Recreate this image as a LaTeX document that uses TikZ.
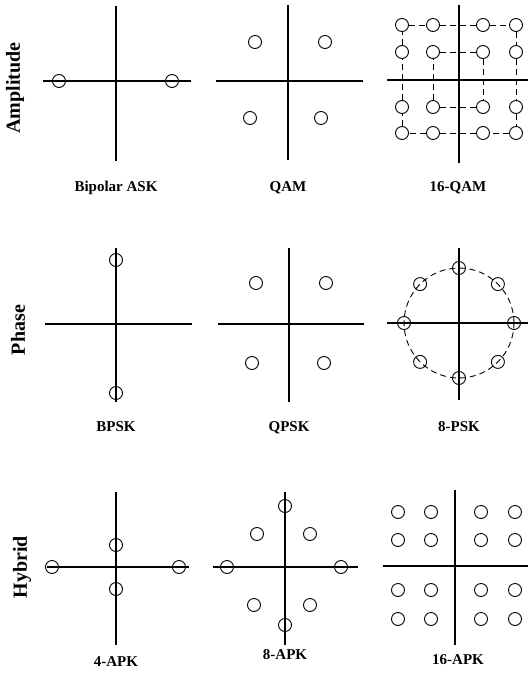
\documentclass[tikz,border=0pt]{standalone}
\usepackage{fontspec}
\setmainfont{Liberation Serif}
\begin{document}
\begin{tikzpicture}[x=1pt,y=-1pt]
\tikzset{pt/.style={circle,draw,inner sep=0pt,minimum size=13pt,line width=0.9pt},
axis/.style={black,line width=1.5pt},
dsh/.style={line width=0.9pt,dash pattern=on 6pt off 4pt},
lbl/.style={font=\fontsize{15}{18}\selectfont\bfseries,text height=10pt,text depth=0pt},
rowlbl/.style={font=\fontsize{20}{24}\selectfont\bfseries,rotate=90}}
\useasboundingbox (0,0) rectangle (528,674);

\foreach\cx/\cy/\l/\r/\t/\b in {116/81/43/191/6/161, 288/81/216/363/5/160, 459/80/387/528/5/163,
116/324/45/192/248/402, 289/324/218/364/248/402, 459/323/387/528/248/400,
116/567/47/189/492/645, 285/567/213/358/492/645, 455/566/383/528/490/645}
{\draw[axis] (\l,\cy) -- (\r,\cy);
\draw[axis] (\cx,\t) -- (\cx,\b);}

\node[rowlbl] (amp) at (15,88) {Amplitude};
\node[rowlbl] (pha) at (18,330) {Phase};
\node[rowlbl] (hyb) at (22,567) {Hybrid};

\node[pt] (ask1) at (59,81) {};
\node[pt] (ask2) at (172,81) {};
\node[lbl] (askl) at (116,186) {Bipolar ASK};

\foreach\x/\y [count=\i] in {255/42, 325/42, 250/118, 321/118}
\node[pt] (qam\i) at (\x,\y) {};
\node[lbl] (qaml) at (288,186) {QAM};

\foreach\x [count=\i] in {402,433,483,516}
\foreach\y [count=\j] in {25,52,107,133}
\node[pt] (q\j\i) at (\x,\y) {};
\draw[dsh] (q11) -- (q12) -- (q13) -- (q14) -- (q24) -- (q34) -- (q44) -- (q43) -- (q42) -- (q41) -- (q31) -- (q21) -- (q11);
\draw[dsh] (q22) -- (q23) -- (q33) -- (q32) -- (q22);
\node[lbl] (qaml16) at (458,186) {16-QAM};

\node[pt] (bpsk1) at (116,260) {};
\node[pt] (bpsk2) at (116,393) {};
\node[lbl] (bpskl) at (116,426) {BPSK};

\foreach\x/\y [count=\i] in {256/283, 326/283, 252/363, 324/363}
\node[pt] (qpsk\i) at (\x,\y) {};
\node[lbl] (qpskl) at (289,426) {QPSK};

\draw[dsh] (459,323) circle[radius=55pt];
\foreach\a [count=\i] in {0,45,...,315}
\node[pt] (psk\i) at ({459+55*cos(\a)},{323+55*sin(\a)}) {};
\node[lbl] (pskl) at (459,426) {8-PSK};

\foreach\x/\y [count=\i] in {52/567, 179/567, 116/545, 116/589}
\node[pt] (apk\i) at (\x,\y) {};
\node[lbl] (apkl) at (116,661) {4-APK};

\foreach\x/\y [count=\i] in {285/506, 285/625, 227/567, 341/567, 257/534, 310/534, 254/605, 310/605}
\node[pt] (apke\i) at (\x,\y) {};
\node[lbl] (apkel) at (285,654) {8-APK};

\foreach\x [count=\i] in {398,431,481,515}
\foreach\y [count=\j] in {512,540,590,619}
\node[pt] (a\j\i) at (\x,\y) {};
\node[lbl] (apkl16) at (458,659) {16-APK};
\end{tikzpicture}
\end{document}
